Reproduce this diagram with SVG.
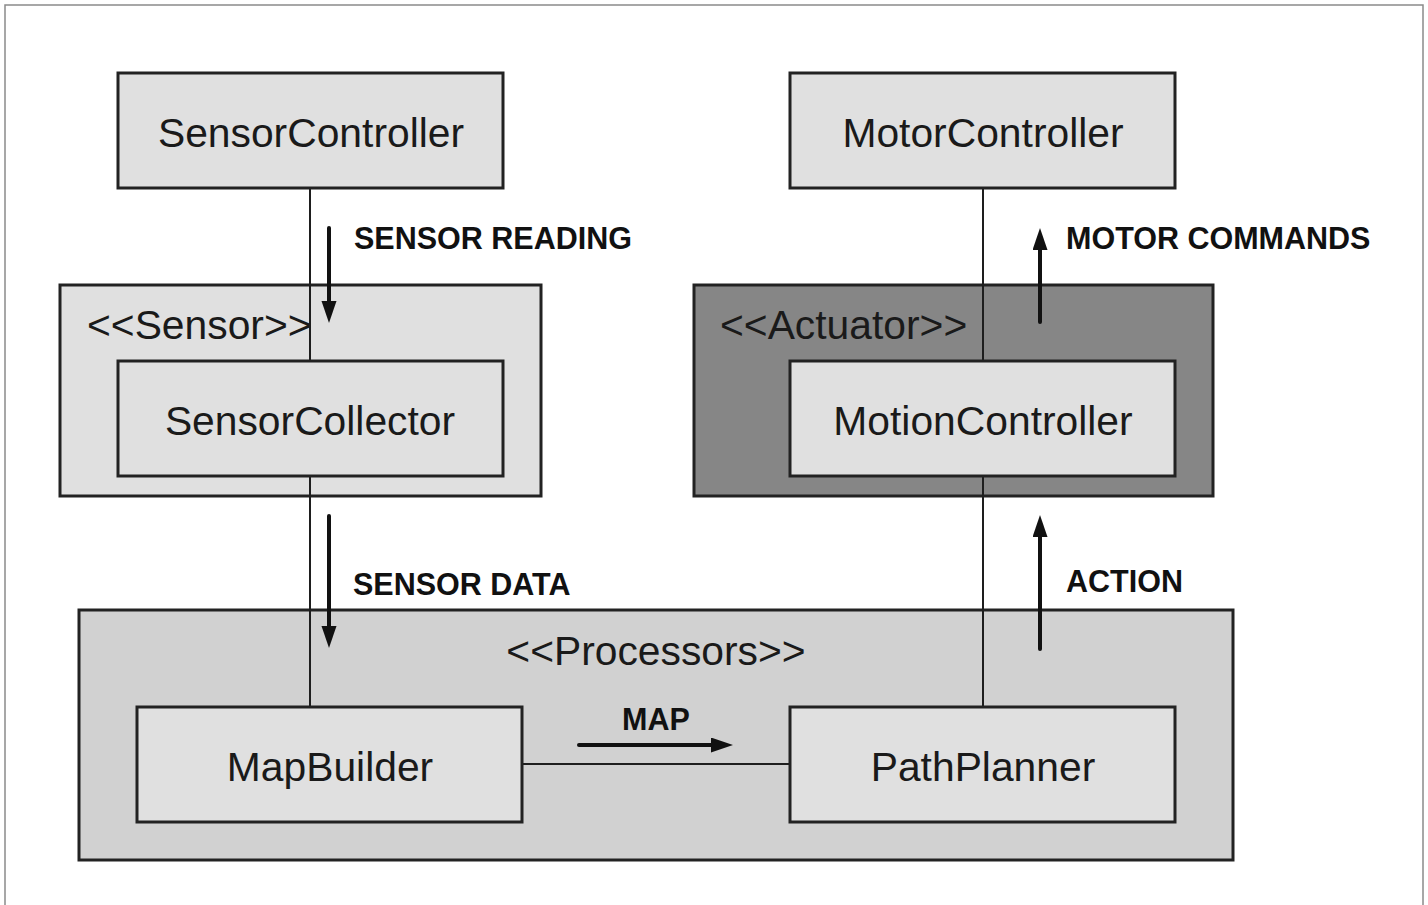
<svg xmlns="http://www.w3.org/2000/svg" width="1428" height="905" viewBox="0 0 1428 905">
  <defs>
    <style>
      .frame { fill: #ffffff; stroke: #8a8a8a; stroke-width: 1.5; }
      .box { fill: #e0e0e0; stroke: #222222; stroke-width: 3; }
      .pkg-light { fill: #e0e0e0; stroke: #222222; stroke-width: 3; }
      .pkg-dark { fill: #868686; stroke: #222222; stroke-width: 3; }
      .pkg-mid { fill: #d1d1d1; stroke: #222222; stroke-width: 3; }
      .link { stroke: #1e1e1e; stroke-width: 2; fill: none; }
      .flow { stroke: #111111; stroke-width: 4; fill: none; stroke-linecap: round; marker-end: url(#head); }
      .name { font-family: "Liberation Sans", Arial, sans-serif; font-size: 40.8px; fill: #1a1a1a; text-anchor: middle; }
      .stereo { font-family: "Liberation Sans", Arial, sans-serif; font-size: 40.8px; fill: #1a1a1a; }
      .label { font-family: "Liberation Sans", Arial, sans-serif; font-size: 30.5px; font-weight: bold; fill: #111111; }
    </style>
    <marker id="head" markerUnits="userSpaceOnUse" markerWidth="24" markerHeight="16" refX="0" refY="7.5" orient="auto" viewBox="0 0 24 16">
      <path d="M0,0 L22,7.5 L0,15 z" fill="#111111"/>
    </marker>
  </defs>

  <rect class="frame" x="5" y="5" width="1418" height="920"/>

  <!-- containers -->
  <g id="sensor-package">
    <rect class="pkg-light" x="60" y="285" width="481" height="211"/>
    <text class="stereo" x="87" y="339">&lt;&lt;Sensor&gt;&gt;</text>
  </g>
  <g id="actuator-package">
    <rect class="pkg-dark" x="694" y="285" width="519" height="211"/>
    <text class="stereo" x="720" y="339">&lt;&lt;Actuator&gt;&gt;</text>
  </g>
  <g id="processors-package">
    <rect class="pkg-mid" x="79" y="610" width="1154" height="250"/>
    <text class="stereo" x="656" y="665" text-anchor="middle">&lt;&lt;Processors&gt;&gt;</text>
  </g>

  <!-- connectors -->
  <g id="connectors">
    <line class="link" x1="310" y1="188" x2="310" y2="361"/>
    <line class="link" x1="310" y1="476" x2="310" y2="707"/>
    <line class="link" x1="983" y1="188" x2="983" y2="361"/>
    <line class="link" x1="983" y1="476" x2="983" y2="707"/>
    <line class="link" x1="522" y1="764" x2="790" y2="764"/>

    <line class="flow" x1="329" y1="228" x2="329" y2="301"/>
    <line class="flow" x1="329" y1="516" x2="329" y2="626"/>
    <line class="flow" x1="1040" y1="322" x2="1040" y2="250"/>
    <line class="flow" x1="1040" y1="649" x2="1040" y2="537"/>
    <line class="flow" x1="579" y1="745" x2="711" y2="745"/>

    <text class="label" x="354" y="249">SENSOR READING</text>
    <text class="label" x="353" y="595">SENSOR DATA</text>
    <text class="label" x="1066" y="249">MOTOR COMMANDS</text>
    <text class="label" x="1066" y="592">ACTION</text>
    <text class="label" x="656" y="730" text-anchor="middle">MAP</text>
  </g>

  <!-- components -->
  <g id="sensor-controller">
    <rect class="box" x="118" y="73" width="385" height="115"/>
    <text class="name" x="311" y="147">SensorController</text>
  </g>
  <g id="motor-controller">
    <rect class="box" x="790" y="73" width="385" height="115"/>
    <text class="name" x="983" y="147">MotorController</text>
  </g>
  <g id="sensor-collector">
    <rect class="box" x="118" y="361" width="385" height="115"/>
    <text class="name" x="310" y="435">SensorCollector</text>
  </g>
  <g id="motion-controller">
    <rect class="box" x="790" y="361" width="385" height="115"/>
    <text class="name" x="983" y="435">MotionController</text>
  </g>
  <g id="map-builder">
    <rect class="box" x="137" y="707" width="385" height="115"/>
    <text class="name" x="330" y="781">MapBuilder</text>
  </g>
  <g id="path-planner">
    <rect class="box" x="790" y="707" width="385" height="115"/>
    <text class="name" x="983" y="781">PathPlanner</text>
  </g>
</svg>
